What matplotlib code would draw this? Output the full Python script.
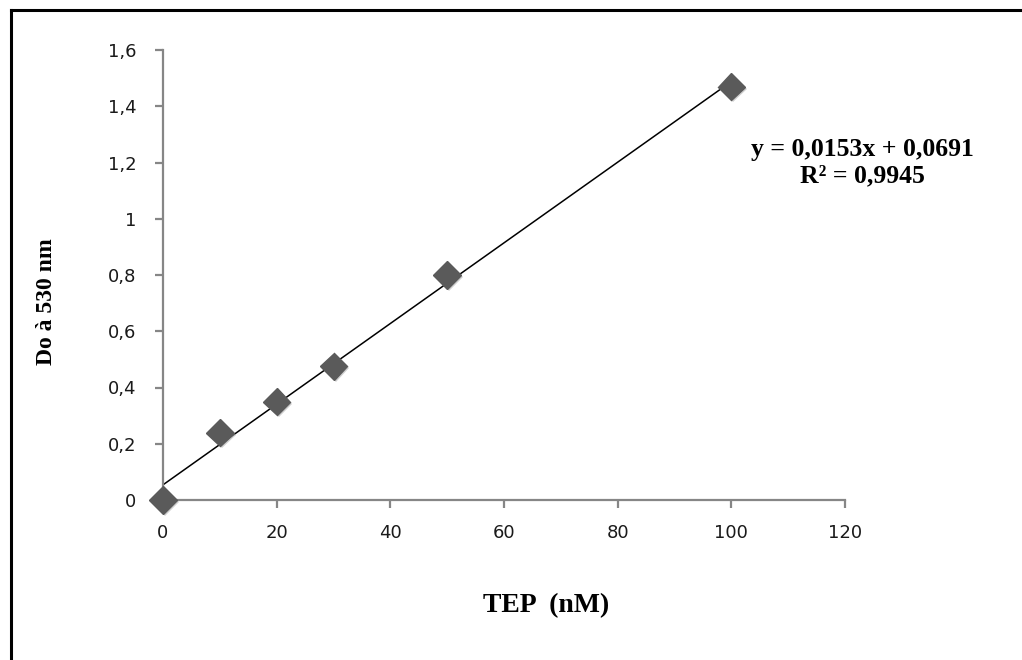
import matplotlib
matplotlib.use("Agg")
import matplotlib.pyplot as plt
from matplotlib.lines import Line2D
from matplotlib.ticker import FuncFormatter
import matplotlib.patheffects as pe
import numpy as np

# Data
tep_nM = [0, 10, 20, 30, 50, 100]
do_530 = [0.0, 0.24, 0.35, 0.475, 0.80, 1.47]
slope = 0.0153
intercept = 0.0691
r2 = 0.9945
x_ticks = [0, 20, 40, 60, 80, 100, 120]
y_ticks = [0, 0.2, 0.4, 0.6, 0.8, 1.0, 1.2, 1.4, 1.6]

W, H = 1022, 660
fig = plt.figure(figsize=(W/100, H/100), dpi=100)
ax = fig.add_axes([163/W, 1-500/H, (845-163)/W, 450/H])

# trendline (least-squares fit of plotted points)
m, b = np.polyfit(tep_nM, do_530, 1)
fit_x = np.array([min(tep_nM), max(tep_nM)])
ax.plot(fit_x, m*fit_x + b, color="black", lw=1.1, zorder=2)

# markers with soft shadow
ax.plot(tep_nM, do_530, linestyle="none", marker="D", markersize=14,
        color="#5a5a5a", markeredgecolor="#5a5a5a", zorder=3, clip_on=False,
        path_effects=[pe.SimplePatchShadow(offset=(1.5, -1.5), shadow_rgbFace="#b0b0b0", alpha=0.6), pe.Normal()])

ax.set_xlim(0, 120)
ax.set_ylim(0, 1.6)
ax.set_xticks(x_ticks)
ax.set_yticks(y_ticks)

def comma_fmt(v, pos):
    s = f"{v:.1f}".rstrip("0").rstrip(".")
    return s.replace(".", ",")

ax.yaxis.set_major_formatter(FuncFormatter(comma_fmt))
ax.xaxis.set_major_formatter(FuncFormatter(lambda v, p: f"{int(v)}"))

for s in ["top", "right"]:
    ax.spines[s].set_visible(False)
for s in ["left", "bottom"]:
    ax.spines[s].set_color("#868686")
    ax.spines[s].set_linewidth(1.6)

ax.tick_params(axis="both", direction="out", length=6, width=1.6, color="#868686",
               labelsize=13, labelcolor="#1a1a1a")
ax.tick_params(axis="y", pad=13)
ax.tick_params(axis="x", pad=11)

serif = dict(family="Liberation Serif", fontweight="bold")
fig.text(546/W, 1-606/H, "TEP  (nM)", ha="center", va="center", fontsize=20, **serif)
fig.text(47/W, 1-302/H, "Do à 530 nm", ha="center", va="center", rotation=90, fontsize=17, **serif)

fig.text(862/W, 1-149/H, f"y = {slope:.4f}x + {intercept:.4f}".replace(".", ","),
         ha="center", va="center", fontsize=18.5, **serif)
fig.text(862/W, 1-176/H, f"R² = {r2:.4f}".replace(".", ","),
         ha="center", va="center", fontsize=18.5, **serif)

# figure border (left and top)
fig.add_artist(Line2D([11/W, 11/W], [0, 1-10/H], color="black", lw=2.2, transform=fig.transFigure))
fig.add_artist(Line2D([11/W, 1], [1-10/H, 1-10/H], color="black", lw=2.2, transform=fig.transFigure))

fig.savefig("out.png", dpi=100)
